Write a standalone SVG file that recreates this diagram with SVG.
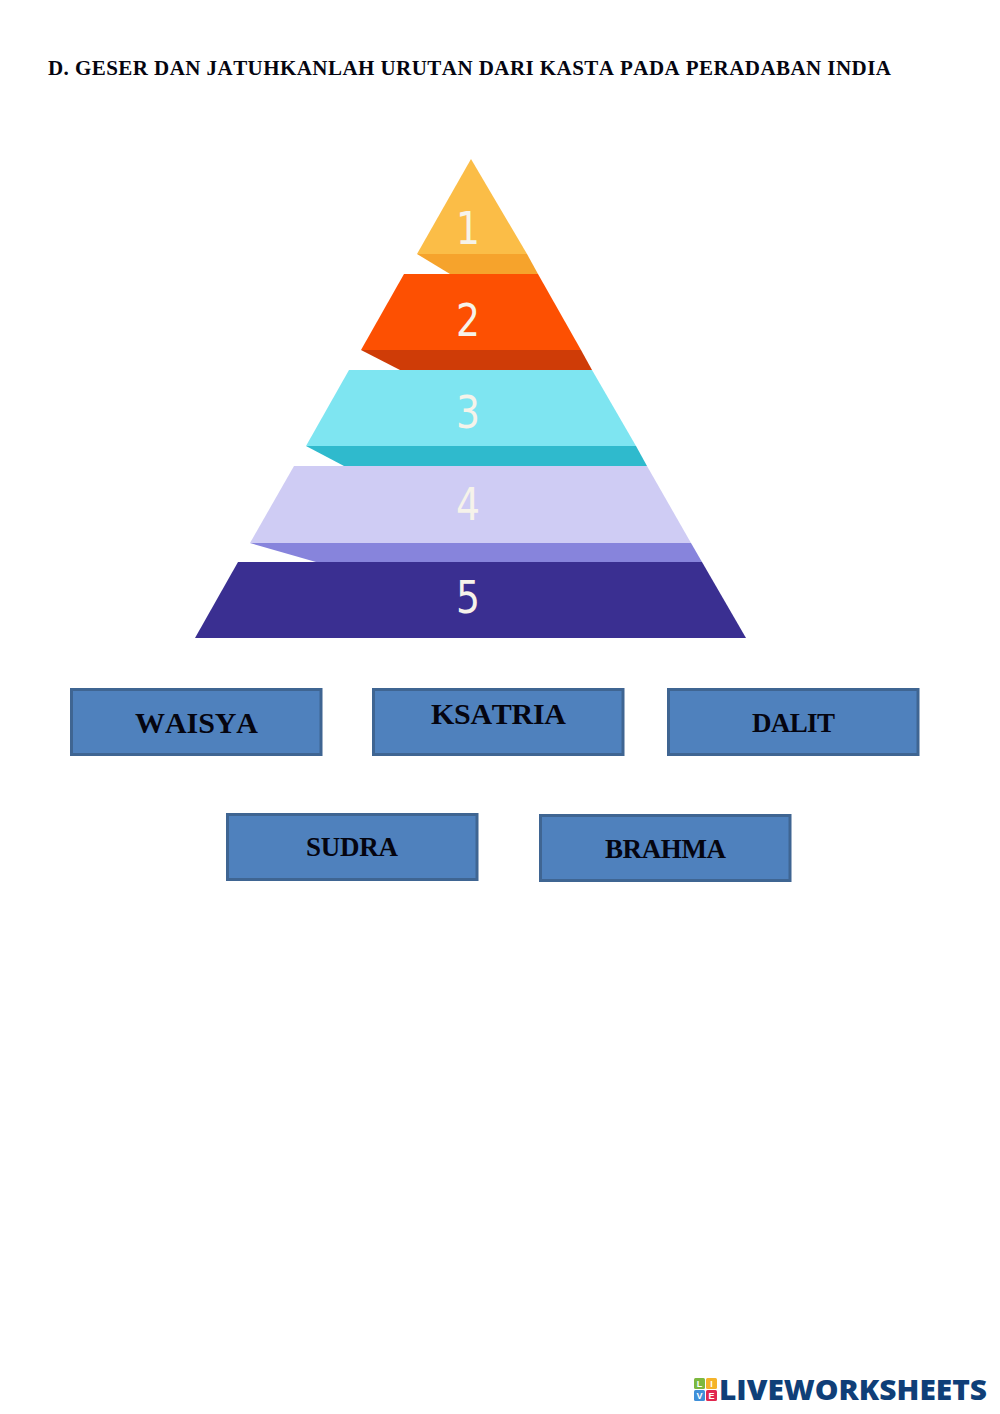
<svg xmlns="http://www.w3.org/2000/svg" width="1000" height="1414" viewBox="0 0 1000 1414">
<style>
.t{font-family:"Liberation Serif","Times New Roman",serif;font-weight:700;fill:#050510;font-kerning:none}
.n{font-family:"DejaVu Sans",sans-serif;font-size:44px;fill:#f6f3ea}
.b{fill:#4f81bd;stroke:#3f6592;stroke-width:3}
.c{font-family:"Liberation Sans",Arial,sans-serif;font-weight:700;font-size:9px;fill:#fff;text-anchor:middle}
</style>
<rect width="1000" height="1414" fill="#fff"/>
<text id="title" class="t" x="48" y="75" font-size="21" textLength="843" lengthAdjust="spacing">D. GESER DAN JATUHKANLAH URUTAN DARI KASTA PADA PERADABAN INDIA</text>
<g id="level-1"><polygon points="471,159 417,254 527,254" fill="#fbbd47"/><polygon points="417,254 450,274 538,274 527,254" fill="#f6a32c"/><text class="n" x="456" y="244" textLength="24" lengthAdjust="spacingAndGlyphs">1</text></g>
<g id="level-2"><polygon points="404,274 538,274 581,350 361,350" fill="#fd5002"/><polygon points="361,350 400,370 592,370 581,350" fill="#cf3c07"/><text class="n" x="456" y="336" textLength="24" lengthAdjust="spacingAndGlyphs">2</text></g>
<g id="level-3"><polygon points="349,370 592,370 636,446 306,446" fill="#7ee5f1"/><polygon points="306,446 344,466 647,466 636,446" fill="#2fbacd"/><text class="n" x="456" y="428" textLength="24" lengthAdjust="spacingAndGlyphs">3</text></g>
<g id="level-4"><polygon points="294,466 647,466 691,543 250,543" fill="#cfccf4"/><polygon points="250,543 316,562 702,562 691,543" fill="#8784dc"/><text class="n" x="456" y="520" textLength="24" lengthAdjust="spacingAndGlyphs">4</text></g>
<g id="level-5"><polygon points="238,562 702,562 746,638 195,638" fill="#3a2f91"/><text class="n" x="456" y="613" textLength="24" lengthAdjust="spacingAndGlyphs">5</text></g>
<g id="waisya"><rect class="b" x="71.500" y="689.500" width="249.500" height="65"/><text class="t" x="135" y="733" font-size="30" textLength="123" lengthAdjust="spacing">WAISYA</text></g>
<g id="ksatria"><rect class="b" x="373.500" y="689.500" width="249.500" height="65"/><text class="t" x="431" y="724" font-size="30" textLength="135" lengthAdjust="spacing">KSATRIA</text></g>
<g id="dalit"><rect class="b" x="668.500" y="689.500" width="249.500" height="65"/><text class="t" x="752" y="732" font-size="27" textLength="83" lengthAdjust="spacing">DALIT</text></g>
<g id="sudra"><rect class="b" x="227.500" y="814.500" width="249.500" height="65"/><text class="t" x="306" y="856" font-size="27" textLength="92" lengthAdjust="spacing">SUDRA</text></g>
<g id="brahma"><rect class="b" x="540.500" y="815.500" width="249.500" height="65"/><text class="t" x="605" y="858" font-size="27" textLength="121" lengthAdjust="spacing">BRAHMA</text></g>
<g id="logo">
<rect x="694" y="1378" width="11" height="11" rx="1.500" fill="#7cb83e"/><rect x="706" y="1378" width="11" height="11" rx="1.500" fill="#f4b32a"/>
<rect x="694" y="1390" width="11" height="11" rx="1.500" fill="#3f8fd8"/><rect x="706" y="1390" width="11" height="11" rx="1.500" fill="#e0284f"/>
<text class="c" x="699.500" y="1387">L</text><text class="c" x="711.500" y="1387">I</text><text class="c" x="699.500" y="1399">V</text><text class="c" x="711.500" y="1399">E</text>
<text x="719" y="1400" font-family="'Open Sans','Noto Sans',sans-serif" font-weight="800" font-size="29" fill="#0f3f78" textLength="268" lengthAdjust="spacingAndGlyphs">LIVEWORKSHEETS</text>
</g>
</svg>
